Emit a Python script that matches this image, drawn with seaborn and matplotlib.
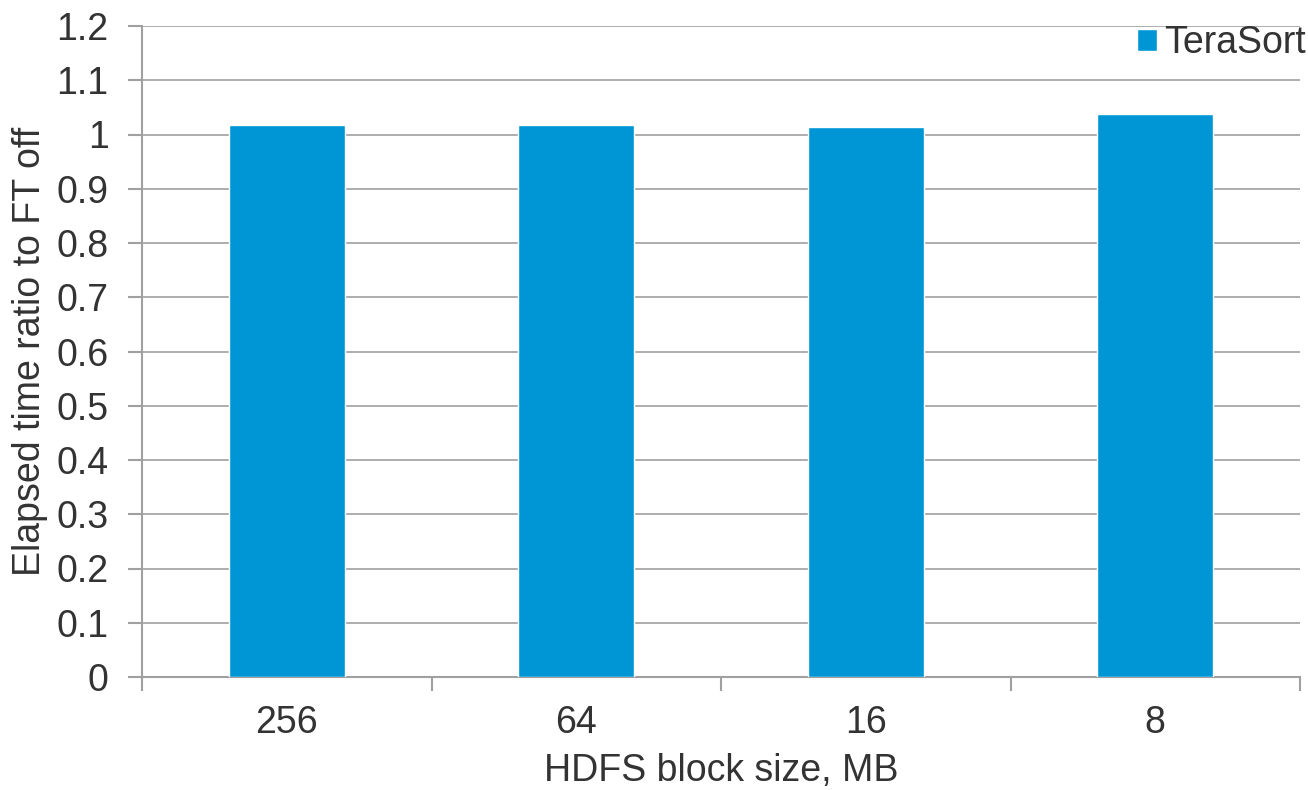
import matplotlib
matplotlib.use("Agg")
import matplotlib.pyplot as plt
import seaborn as sns
import pandas as pd
from matplotlib.patches import Patch

categories = ["256", "64", "16", "8"]
terasort = [1.017, 1.018, 1.013, 1.037]
yticks = [0, 0.1, 0.2, 0.3, 0.4, 0.5, 0.6, 0.7, 0.8, 0.9, 1, 1.1, 1.2]
ytick_labels = ["0", "0.1", "0.2", "0.3", "0.4", "0.5", "0.6", "0.7", "0.8", "0.9", "1", "1.1", "1.2"]

sns.set_theme(style="white")
plt.rcParams['font.family'] = ['Liberation Sans', 'DejaVu Sans']

df = pd.DataFrame({"size": categories, "ratio": terasort})

FS = 27
fig = plt.figure(figsize=(13.08, 7.9), dpi=100)
ax = fig.add_axes([142/1308, 1 - 677/790, (1300-142)/1308, (677-26)/790])

sns.barplot(data=df, x="size", y="ratio", color="#0096D6", saturation=1,
            width=0.4, ax=ax, zorder=3)

gray = "#A0A0A0"
text_c = "#333333"
ax.set_ylim(0, 1.2)
ax.set_xlim(-0.5, 3.5)
ax.set_yticks(yticks)
ax.set_yticklabels(ytick_labels)
ax.yaxis.grid(True, color=gray, linewidth=1.2, zorder=0)
ax.set_axisbelow(True)
for s in ["top", "right"]:
    ax.spines[s].set_visible(False)
for s in ["left", "bottom"]:
    ax.spines[s].set_color(gray)
    ax.spines[s].set_linewidth(1.5)

ax.set_xticks([0, 1, 2, 3])
ax.set_xticklabels(categories)
ax.set_xticks([-0.5, 0.5, 1.5, 2.5, 3.5], minor=True)
ax.tick_params(axis="x", which="major", length=0, pad=20, labelsize=FS, labelcolor=text_c)
ax.tick_params(axis="x", which="minor", length=10, width=1.5, color=gray, direction="out", bottom=True)
ax.tick_params(axis="y", which="major", length=10, width=1.5, color=gray, direction="out",
               left=True, labelsize=FS, labelcolor=text_c, pad=14)

ax.set_xlabel("HDFS block size, MB", fontsize=FS, color=text_c, labelpad=9)
ax.set_ylabel("Elapsed time ratio to FT off", fontsize=FS, color=text_c, labelpad=6)

leg = ax.legend(handles=[Patch(facecolor="#0096D6", label="TeraSort")],
                loc="center right", bbox_to_anchor=(1306/1308, 1 - 43/790),
                bbox_transform=fig.transFigure, frameon=False,
                fontsize=FS, handlelength=0.52, handleheight=0.52, handletextpad=0.2,
                labelcolor=text_c, borderaxespad=0, borderpad=0)

fig.savefig("out.png", dpi=100, facecolor="white")
